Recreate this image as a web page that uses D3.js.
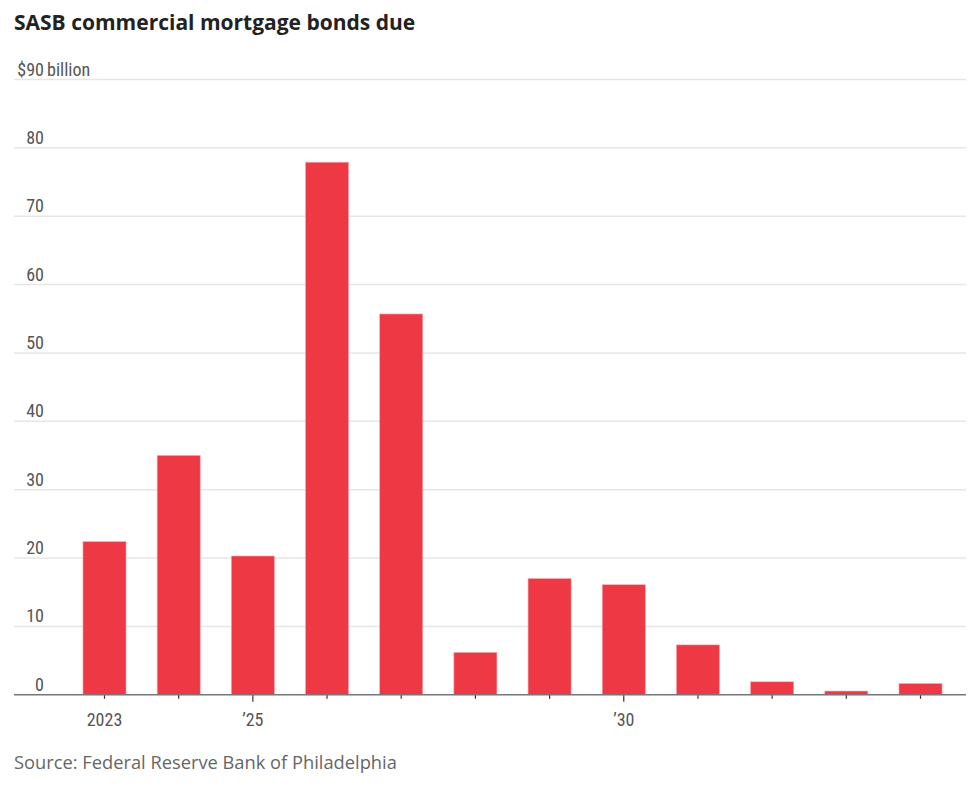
<!DOCTYPE html>
<html>
<head>
<meta charset="utf-8">
<script src="https://cdn.jsdelivr.net/npm/d3@7"></script>
<style>
  html, body { margin: 0; padding: 0; background: #fff; }
  svg { display: block; }
</style>
</head>
<body>
<svg id="chart" width="975" height="792"></svg>
<script>
const years = [2023, 2024, 2025, 2026, 2027, 2028, 2029, 2030, 2031, 2032, 2033, 2034];
const values = [22.4, 35.0, 20.3, 77.9, 55.7, 6.2, 17.0, 16.1, 7.3, 1.9, 0.55, 1.65];
const yTicks = [0, 10, 20, 30, 40, 50, 60, 70, 80, 90];
const xLabels = {2023: "2023", 2025: "\u201925", 2030: "\u201930"};
const majorYears = [2025, 2030];

const svg = d3.select("#chart");
const axisFont = "'Liberation Sans Narrow', 'Roboto Condensed', 'DejaVu Sans Condensed', sans-serif";

const x = d3.scaleBand()
  .domain(years)
  .range([67.4, 957.6])
  .paddingInner(0.42)
  .paddingOuter(0.21);

const y = d3.scaleLinear()
  .domain([0, 90])
  .range([694.8, 79.5]);

// Title
svg.append("text")
  .attr("x", 14).attr("y", 30)
  .attr("font-family", "'Open Sans', sans-serif")
  .attr("font-weight", 700)
  .attr("font-size", 21)
  .attr("fill", "#222")
  .text("SASB commercial mortgage bonds due");

// Gridlines
svg.append("g")
  .selectAll("line")
  .data(yTicks.filter(d => d > 0))
  .join("line")
  .attr("x1", 14).attr("x2", 966)
  .attr("y1", d => y(d)).attr("y2", d => y(d))
  .attr("stroke", "#e6e6e6")
  .attr("stroke-width", 1.5);

// Y labels
const yl = svg.append("g")
  .attr("font-family", axisFont)
  .attr("font-size", 18)
  .attr("fill", "#555");
yl.selectAll("text")
  .data(yTicks)
  .join("text")
  .attr("x", 44)
  .attr("y", d => y(d) - 4)
  .attr("text-anchor", "end")
  .text(d => d === 90 ? "$90" : d);
yl.append("text")
  .attr("x", 47)
  .attr("y", y(90) - 4)
  .text("billion");

// Bars
svg.append("g")
  .selectAll("rect")
  .data(years.map((yr, i) => ({yr, v: values[i]})))
  .join("rect")
  .attr("x", d => x(d.yr))
  .attr("width", x.bandwidth())
  .attr("y", d => y(d.v))
  .attr("height", d => y(0) - y(d.v))
  .attr("fill", "#ee3944")
  .attr("stroke", "#f7a5aa")
  .attr("stroke-width", 0.6);

// X axis
const xAxis = d3.axisBottom(x)
  .tickSize(0)
  .tickFormat(d => xLabels[d] || "");
const gx = svg.append("g")
  .attr("transform", `translate(0,${y(0)})`)
  .call(xAxis);
gx.select(".domain").remove();
gx.append("line")
  .attr("x1", 14).attr("x2", 966)
  .attr("stroke", "#777")
  .attr("stroke-width", 1.6);
gx.selectAll(".tick").append("line")
  .attr("y1", 0)
  .attr("y2", d => majorYears.includes(d) ? 7 : 4)
  .attr("stroke", "#333")
  .attr("stroke-width", 1.2);
gx.selectAll(".tick text")
  .attr("y", 18)
  .attr("dy", "0.71em")
  .attr("font-family", axisFont)
  .attr("font-size", 18)
  .attr("fill", "#555");

// Source
svg.append("text")
  .attr("x", 14).attr("y", 769)
  .attr("font-family", "'Open Sans', sans-serif")
  .attr("font-size", 18.3)
  .attr("fill", "#666")
  .text("Source: Federal Reserve Bank of Philadelphia");
</script>
</body>
</html>
